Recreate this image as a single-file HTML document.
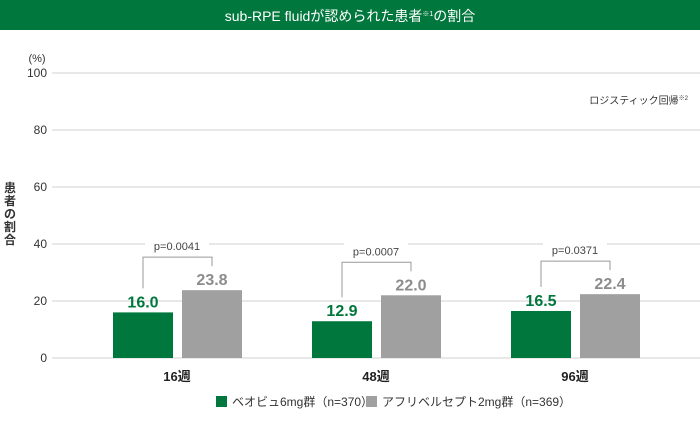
<!DOCTYPE html>
<html><head><meta charset="utf-8"><style>
body{margin:0;width:700px;height:416px;background:#fff;overflow:hidden;font-family:"Liberation Sans","Noto Sans CJK JP",sans-serif}
svg text{font-family:"Liberation Sans","Noto Sans CJK JP",sans-serif}
</style></head><body>
<svg id="chart" width="700" height="416">
<rect x="0" y="0" width="700" height="30" fill="#00773c"/>
<text x="350" y="21" text-anchor="middle" fill="#fff" font-size="14">sub-RPE fluidが認められた患者<tspan font-size="7" dy="-5">※1</tspan><tspan dy="5">の割合</tspan></text>
<text x="37" y="62" text-anchor="middle" font-size="11" fill="#333">(%)</text>
<text x="688" y="104" text-anchor="end" font-size="10" fill="#333">ロジスティック回帰<tspan font-size="6" dy="-4">※2</tspan></text>
<text x="10" y="192" font-size="12" font-weight="bold" fill="#333" text-anchor="middle"><tspan x="10" dy="0">患</tspan><tspan x="10" dy="13">者</tspan><tspan x="10" dy="13">の</tspan><tspan x="10" dy="13">割</tspan><tspan x="10" dy="13">合</tspan></text>
<g id="grid"></g><g id="bars"></g>
<rect x="216" y="396" width="11" height="11" fill="#00773c"/>
<text x="232" y="406" font-size="12" fill="#333">ベオビュ6mg群（n=370）</text>
<rect x="366" y="396" width="11" height="11" fill="#a0a0a0"/>
<text x="382" y="406" font-size="12" fill="#333">アフリベルセプト2mg群（n=369）</text>
</svg>
<script>
const categories=["16週","48週","96週"];
const beovu=[16.0,12.9,16.5];
const aflib=[23.8,22.0,22.4];
const pvals=["p=0.0041","p=0.0007","p=0.0371"];
const ticks=[0,20,40,60,80,100];
const NS="http://www.w3.org/2000/svg";
const y=v=>358-v*2.85;
const cx=i=>177+199*i;
function mk(p,tag,a,txt){const e=document.createElementNS(NS,tag);for(const k in a)e.setAttribute(k,a[k]);if(txt!=null)e.textContent=txt;p.appendChild(e);return e;}
const g=document.getElementById('grid'),b=document.getElementById('bars');
ticks.forEach(t=>{
 const l=mk(g,'line',{x1:52,x2:700,y1:y(t),y2:y(t),stroke:'#d0d0d0','stroke-width':1});
 
 
 const tx=mk(g,'text',{x:47,y:y(t)+4,'text-anchor':'end','font-size':12,fill:'#333'},t);
 
 
});
categories.forEach((c,i)=>{
 const gx=cx(i)-64,fx=cx(i)+5;
 const r1=mk(b,'rect',{x:gx,y:y(beovu[i]),width:60,height:358-y(beovu[i]),fill:'#00773c'});
 
 
 const r2=mk(b,'rect',{x:fx,y:y(aflib[i]),width:60,height:358-y(aflib[i]),fill:'#a0a0a0'});
 
 
 const v1=mk(b,'text',{x:gx+30,y:y(beovu[i])-5,'text-anchor':'middle','font-size':16,'font-weight':'bold',fill:'#00773c'},beovu[i].toFixed(1));
 
 
 const v2=mk(b,'text',{x:fx+30,y:y(aflib[i])-5,'text-anchor':'middle','font-size':16,'font-weight':'bold',fill:'#8c8c8c'},aflib[i].toFixed(1));
 
 
 const top=y(Math.max(beovu[i],aflib[i]))-33;
 const br=mk(b,'path',{d:`M${gx+30},${y(beovu[i])-24}V${top}H${fx+30}V${y(aflib[i])-24}`,fill:'none',stroke:'#999','stroke-width':1});
 
 
 const bg=mk(b,'rect',{x:cx(i)-32,y:top-20,width:64,height:16,fill:'#fff'});
 
 
 const pt=mk(b,'text',{x:cx(i),y:top-7,'text-anchor':'middle','font-size':11,fill:'#444'},pvals[i]);
 
 
 const xl=mk(b,'text',{x:cx(i),y:381,'text-anchor':'middle','font-size':13,'font-weight':'bold',fill:'#222'},c);
 
 
});
</script>
</body></html>
